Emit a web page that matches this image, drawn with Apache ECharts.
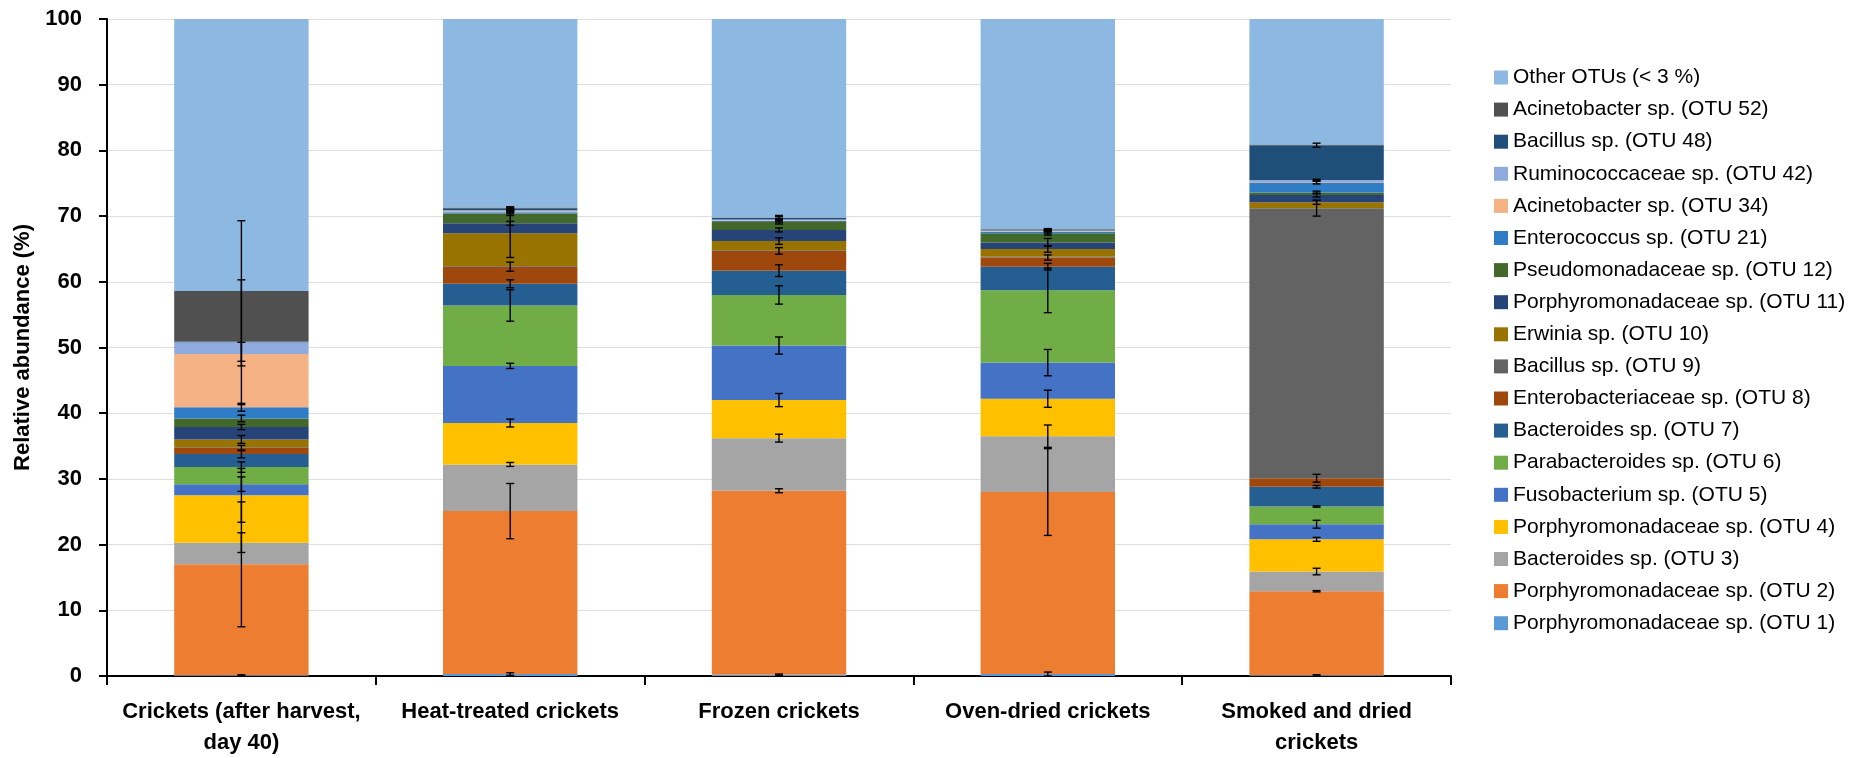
<!DOCTYPE html>
<html>
<head>
<meta charset="utf-8">
<script src="https://cdn.jsdelivr.net/npm/echarts@6/dist/echarts.min.js"></script>
<style>
html,body{margin:0;padding:0;background:#fff;}
#chart{width:1869px;height:758px;}
</style>
</head>
<body>
<div id="chart"></div>
<script>
// ---- data ----
const categories = [
  "Crickets (after harvest,\nday 40)",
  "Heat-treated crickets",
  "Frozen crickets",
  "Oven-dried crickets",
  "Smoked and dried\ncrickets"
];
const seriesNames = [
  "Porphyromonadaceae sp. (OTU 1)",
  "Porphyromonadaceae sp. (OTU 2)",
  "Bacteroides sp. (OTU 3)",
  "Porphyromonadaceae sp. (OTU 4)",
  "Fusobacterium sp. (OTU 5)",
  "Parabacteroides sp. (OTU 6)",
  "Bacteroides sp. (OTU 7)",
  "Enterobacteriaceae sp. (OTU 8)",
  "Bacillus sp. (OTU 9)",
  "Erwinia sp. (OTU 10)",
  "Porphyromonadaceae sp. (OTU 11)",
  "Pseudomonadaceae sp. (OTU 12)",
  "Enterococcus sp. (OTU 21)",
  "Acinetobacter sp. (OTU 34)",
  "Ruminococcaceae sp. (OTU 42)",
  "Bacillus sp. (OTU 48)",
  "Acinetobacter sp. (OTU 52)",
  "Other OTUs (< 3 %)"
];
const otu1  = [0.1, 0.3, 0.2, 0.3, 0.1];
const otu2  = [16.9, 24.8, 28.0, 27.7, 12.8];
const otu3  = [3.3, 7.1, 8.0, 8.5, 3.0];
const otu4  = [7.2, 6.3, 5.8, 5.7, 4.9];
const otu5  = [1.7, 8.7, 8.3, 5.5, 2.3];
const otu6  = [2.6, 9.2, 7.7, 11.0, 2.7];
const otu7  = [2.0, 3.3, 3.7, 3.6, 3.0];
const otu8  = [0.9, 2.6, 3.0, 1.4, 1.3];
const otu9  = [0.1, 0.1, 0.1, 0.1, 41.1];
const otu10 = [1.2, 5.0, 1.4, 1.2, 0.9];
const otu11 = [1.9, 1.5, 1.7, 1.0, 1.1];
const otu12 = [1.3, 1.5, 1.2, 1.4, 0.4];
const otu21 = [1.7, 0.2, 0.2, 0.2, 1.5];
const otu34 = [8.1, 0.1, 0.1, 0.1, 0.1];
const otu42 = [1.8, 0.2, 0.1, 0.1, 0.3];
const otu48 = [0.1, 0.3, 0.2, 0.1, 5.3];
const otu52 = [7.7, 0.1, 0.1, 0.1, 0.1];
const other = [41.4, 28.7, 30.2, 32.0, 19.1];

// error bar half-lengths (same order as series)
const err1  = [0.1, 0.2, 0.1, 0.3, 0.1];
const err2  = [9.5, 4.2, 0.3, 6.6, 0.1];
const err3  = [1.5, 0.3, 0.6, 1.7, 0.5];
const err4  = [4.1, 0.6, 1.0, 1.3, 0.3];
const err5  = [1.1, 0.4, 1.3, 2.0, 0.6];
const err6  = [0.8, 2.4, 1.4, 3.4, 0.1];
const err7  = [0.6, 0.6, 0.9, 0.5, 0.2];
const err8  = [0.4, 0.7, 0.5, 0.4, 0.6];
const err9  = [0, 0, 0, 0, 1.2];
const err10 = [0.6, 3.7, 0.5, 0.5, 0.3];
const err11 = [0.4, 0.3, 0.3, 0.6, 0.3];
const err12 = [0.5, 0.3, 0.3, 0.3, 0.2];
const err21 = [0.6, 0.2, 0.2, 0.2, 0.2];
const err34 = [1.8, 0.1, 0.1, 0.1, 0];
const err42 = [9.5, 0.1, 0.1, 0.1, 0.1];
const err48 = [0, 0.2, 0.2, 0.1, 0.3];
const err52 = [10.7, 0.1, 0.3, 0.1, 0];
const errOther = [0, 0, 0, 0, 0];

const yTicks = { min: 0, max: 100, interval: 10 };

const colors = [
  "#5B9BD5", "#ED7D31", "#A5A5A5", "#FFC000", "#4472C4", "#70AD47",
  "#255E91", "#9E480E", "#636363", "#997300", "#264478", "#43682B",
  "#2E7DC6", "#F4B183", "#8FAADC", "#1F4E79", "#505050", "#8DB8E1"
];

const values = [otu1, otu2, otu3, otu4, otu5, otu6, otu7, otu8, otu9, otu10,
                otu11, otu12, otu21, otu34, otu42, otu48, otu52, other];
const errors = [err1, err2, err3, err4, err5, err6, err7, err8, err9, err10,
                err11, err12, err21, err34, err42, err48, err52, errOther];

// ---- build ----
const series = values.map((v, i) => ({
  name: seriesNames[i],
  type: 'bar',
  stack: 'total',
  barWidth: '50%',
  data: v,
  itemStyle: { color: colors[i] },
  emphasis: { disabled: true }
}));

const errData = [];
const cum = categories.map(() => 0);
values.forEach((v, i) => {
  v.forEach((val, j) => {
    cum[j] += val;
    if (errors[i][j] > 0) errData.push([j, cum[j], errors[i][j]]);
  });
});

series.push({
  type: 'custom',
  name: 'errors',
  z: 10,
  silent: true,
  data: errData,
  renderItem: function (params, api) {
    const x = api.value(0);
    const top = api.value(1);
    const e = api.value(2);
    const hi = api.coord([x, top + e]);
    const lo = api.coord([x, top - e]);
    const cw = 4;
    const st = { stroke: '#000', lineWidth: 1.4 };
    return {
      type: 'group',
      children: [
        { type: 'line', shape: { x1: hi[0], y1: hi[1], x2: lo[0], y2: lo[1] }, style: st },
        { type: 'line', shape: { x1: hi[0] - cw, y1: hi[1], x2: hi[0] + cw, y2: hi[1] }, style: st },
        { type: 'line', shape: { x1: lo[0] - cw, y1: lo[1], x2: lo[0] + cw, y2: lo[1] }, style: st }
      ]
    };
  }
});

const chart = echarts.init(document.getElementById('chart'), null, { renderer: 'canvas' });
chart.setOption({
  animation: false,
  textStyle: { fontFamily: 'Liberation Sans, Arial, sans-serif' },
  grid: { left: 107, right: 418, top: 19, bottom: 82, containLabel: false },
  legend: {
    orient: 'vertical',
    left: 1489,
    top: 62,
    itemWidth: 14,
    itemHeight: 14,
    itemGap: 11.1,
    icon: 'rect',
    data: seriesNames.slice().reverse(),
    textStyle: { fontSize: 21, lineHeight: 21, color: '#000', fontFamily: 'Liberation Sans, Arial, sans-serif' }
  },
  xAxis: {
    type: 'category',
    data: categories,
    axisLine: { lineStyle: { color: '#000', width: 2 } },
    axisTick: { show: true, length: 9, lineStyle: { color: '#000', width: 2 } },
    axisLabel: {
      interval: 0,
      margin: 20,
      fontSize: 22,
      fontWeight: 'bold',
      lineHeight: 31,
      color: '#000',
      verticalAlign: 'top'
    }
  },
  yAxis: {
    type: 'value',
    min: yTicks.min,
    max: yTicks.max,
    interval: yTicks.interval,
    name: 'Relative abundance (%)',
    nameLocation: 'middle',
    nameGap: 62,
    nameTextStyle: { fontSize: 22, fontWeight: 'bold', color: '#000' },
    axisLine: { show: true, lineStyle: { color: '#000', width: 2 } },
    axisTick: { show: true, length: 8, lineStyle: { color: '#000', width: 2 } },
    axisLabel: { fontSize: 22, fontWeight: 'bold', color: '#000', margin: 25 },
    splitLine: { lineStyle: { color: '#dedede', width: 1 } }
  },
  series: series
});
</script>
</body>
</html>
